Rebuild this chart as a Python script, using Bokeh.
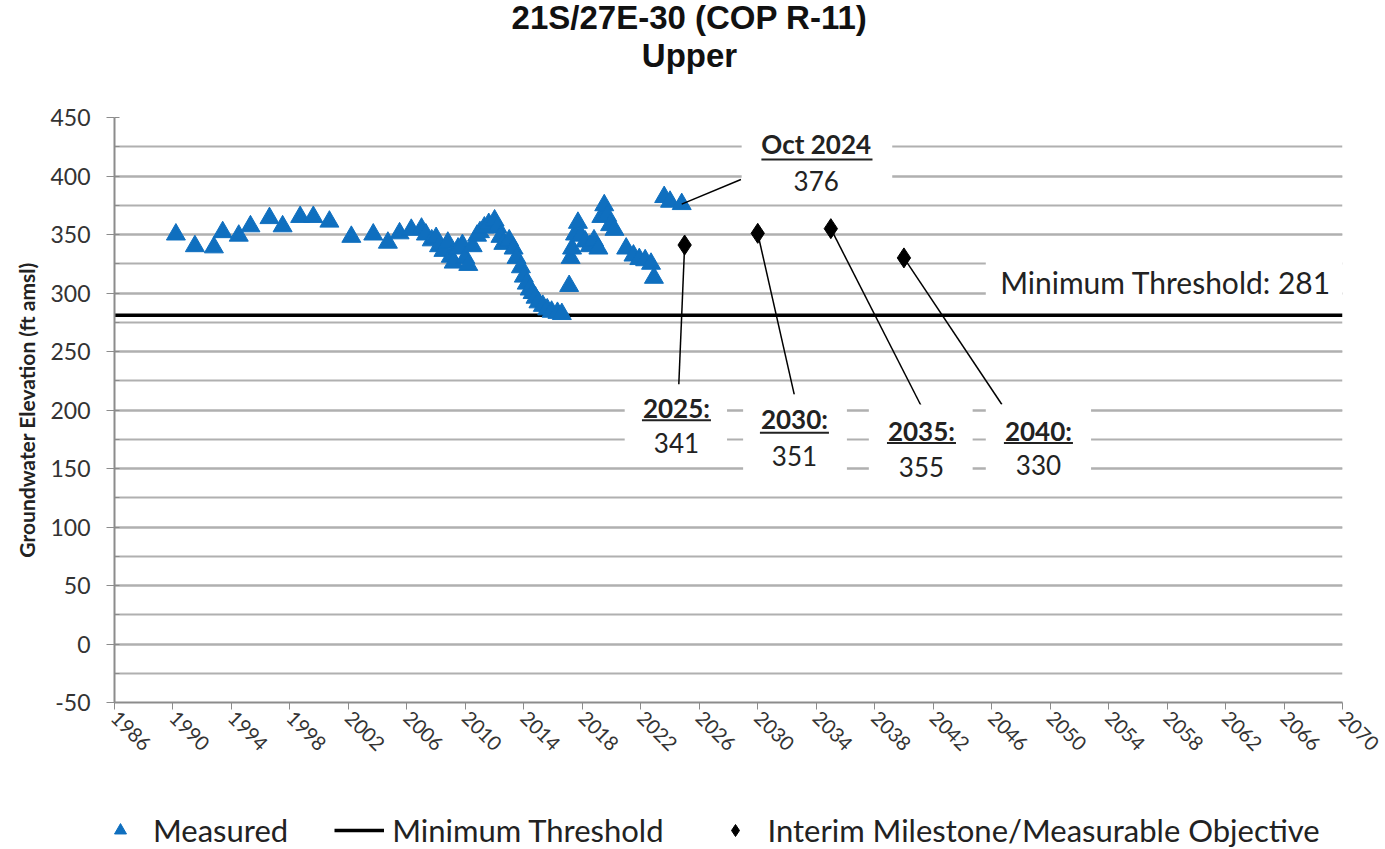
from bokeh.plotting import figure
from bokeh.layouts import column
from bokeh.models import (FixedTicker, Legend, LegendItem, Label, BoxAnnotation,
                          PrintfTickFormatter)
from bokeh.embed import file_html
from bokeh.resources import INLINE
import math

# ---------------- data ----------------
measured_year = [1990.2, 1991.5, 1992.8, 1993.4, 1994.5, 1995.3, 1996.6, 1997.5, 1998.7, 1999.6,
                 2000.7, 2002.2, 2003.7, 2004.7, 2005.5, 2006.3, 2007.0, 2007.3, 2007.7, 2008.0,
                 2008.2, 2008.5, 2008.8, 2009.0, 2009.2, 2009.5, 2009.8, 2010.0, 2010.2, 2010.5,
                 2010.8, 2011.0, 2011.3, 2011.6, 2012.0, 2012.2, 2012.4, 2012.6, 2013.0, 2013.3,
                 2013.5, 2013.8, 2014.0, 2014.2, 2014.4, 2014.6, 2014.8, 2015.0, 2015.3, 2015.6,
                 2015.9, 2016.3, 2016.6, 2017.1, 2017.2, 2017.3, 2017.5, 2017.7, 2017.9, 2018.2,
                 2018.5, 2018.8, 2019.1, 2019.3, 2019.5, 2019.7, 2019.9, 2020.2, 2021.0, 2021.5,
                 2021.9, 2022.3, 2022.7, 2022.9, 2023.6, 2024.0, 2024.8]
measured_value = [350, 340, 339, 352, 349, 357, 364, 357, 365, 365,
                  361, 348, 350, 343, 351, 354, 355, 350, 345, 347,
                  340, 336, 343, 331, 326, 338, 341, 330, 324, 340,
                  349, 352, 356, 359, 362, 356, 348, 342, 345, 338,
                  330, 322, 314, 308, 303, 300, 296, 292, 289, 286,
                  284, 283, 282, 306, 330, 338, 350, 360, 349, 344,
                  340, 345, 338, 365, 375, 366, 358, 354, 338, 332,
                  329, 328, 325, 313, 382, 378, 376]

milestone_year = [2025, 2030, 2035, 2040]
milestone_value = [341, 351, 355, 330]
milestone_text = ["341", "351", "355", "330"]
milestone_title = ["2025:", "2030:", "2035:", "2040:"]

threshold_value = 281
latest_title = "Oct 2024"
latest_text = "376"

title_lines = ["21S/27E-30 (COP R-11)", "Upper"]
legend_labels = ["Measured", "Minimum Threshold", "Interim Milestone/Measurable Objective"]

x_ticks = list(range(1986, 2071, 4))
y_ticks = list(range(-50, 451, 50))
y_minor = list(range(-50, 451, 25))

TOTAL_W = 1384
FL, FW = 114, 1228          # frame left / width shared by the stacked strips
BLUE = "#0F6FBF"

# ---------------- title strip (x in canvas pixels) ----------------
pt = figure(width=TOTAL_W, height=100, x_range=(FL, FL + FW), y_range=(0, 100),
            output_backend="svg", toolbar_location=None, x_axis_type=None, y_axis_type=None,
            min_border_left=FL, min_border_right=TOTAL_W - FL - FW, min_border_top=0,
            min_border_bottom=0)
pt.outline_line_color = None
pt.xgrid.visible = False
pt.ygrid.visible = False
for txt, yy in zip(title_lines, [83, 45]):
    pt.add_layout(Label(x=689, y=yy, text=txt, text_align="center", text_baseline="middle",
                        text_font="Liberation Sans", text_font_size="33px",
                        text_font_style="bold", text_color="#111111"))

# ---------------- main chart ----------------
p = figure(frame_width=FW, frame_height=585, x_range=(1986, 2070), y_range=(-50, 450),
           output_backend="svg", toolbar_location=None,
           min_border_left=FL, min_border_top=17, min_border_right=TOTAL_W - FL - FW,
           min_border_bottom=100)
p.outline_line_color = None
p.background_fill_color = "white"
p.border_fill_color = "white"

# axes
p.xaxis.ticker = FixedTicker(ticks=x_ticks)
p.xaxis.major_label_orientation = -math.pi / 4
p.xaxis.major_label_text_font = "Lato"
p.xaxis.major_label_text_font_size = "20px"
p.xaxis.major_label_text_color = "#333333"
p.xaxis.axis_line_color = "#8c8c8c"
p.xaxis.axis_line_width = 2
p.xaxis.major_tick_line_color = "#8c8c8c"
p.xaxis.major_tick_out = 7
p.xaxis.major_tick_in = 0
p.xaxis.minor_tick_line_color = None

p.yaxis.ticker = FixedTicker(ticks=y_ticks, minor_ticks=y_minor)
p.yaxis.formatter = PrintfTickFormatter(format="%d")
p.yaxis.major_label_text_font = "Lato"
p.yaxis.major_label_text_font_size = "23px"
p.yaxis.major_label_text_color = "#333333"
p.yaxis.major_label_standoff = 16
p.yaxis.axis_line_color = "#8c8c8c"
p.yaxis.axis_line_width = 2
p.yaxis.major_tick_line_color = "#8c8c8c"
p.yaxis.major_tick_out = 8
p.yaxis.major_tick_in = 0
p.yaxis.minor_tick_line_color = "#8c8c8c"
p.yaxis.minor_tick_in = 5
p.yaxis.minor_tick_out = 0
p.yaxis.axis_label = "Groundwater Elevation (ft amsl)"
p.yaxis.axis_label_text_font = "Lato"
p.yaxis.axis_label_text_font_style = "bold"
p.yaxis.axis_label_text_font_size = "21px"
p.yaxis.axis_label_text_color = "#222222"
p.yaxis.axis_label_standoff = 8

p.xgrid.grid_line_color = None
p.ygrid.grid_line_color = "#b0b0b0"
p.ygrid.grid_line_width = 2
p.ygrid.minor_grid_line_color = "#b0b0b0"
p.ygrid.minor_grid_line_width = 2

# threshold line
p.line(x=[1986, 2070], y=[threshold_value, threshold_value], line_color="black", line_width=3.5)

# measured
p.scatter(x=measured_year, y=measured_value, marker="triangle", size=19,
          fill_color=BLUE, line_color=BLUE)

# milestones
p.scatter(x=milestone_year, y=milestone_value, marker="diamond", size=20,
          fill_color="black", line_color="black")

# leader lines (label anchor -> marker)
lead_x0 = [2024.6, 2032.5, 2041.2, 2046.7]
lead_y0 = [221.8, 213.2, 203.0, 204.7]
p.segment(x0=lead_x0, y0=lead_y0, x1=milestone_year, y1=milestone_value,
          line_color="black", line_width=1.5)
p.segment(x0=[2028.85], y0=[397.0], x1=[measured_year[-1]], y1=[measured_value[-1]],
          line_color="black", line_width=1.5)

# white label boxes
boxes = [
    (2028.9, 2039.2, 380.0, 441.5),   # Oct 2024
    (2020.9, 2027.9, 157.7, 221.8),   # 2025
    (2029.0, 2036.1, 144.9, 213.2),   # 2030
    (2037.6, 2044.7, 132.1, 204.7),   # 2035
    (2045.6, 2052.8, 132.1, 204.7),   # 2040
    (2045.6, 2070.0, 294.4, 332.9),   # minimum threshold label
]
for l, r, b, t in boxes:
    p.add_layout(BoxAnnotation(left=l, right=r, bottom=b, top=t, fill_color="white",
                               fill_alpha=1.0, line_color=None, level="annotation"))

def lbl(x, y, text, bold=False, size="26px"):
    p.add_layout(Label(x=x, y=y, text=text, text_align="center", text_baseline="middle",
                       text_font="Lato", text_font_size=size,
                       text_font_style="bold" if bold else "normal",
                       text_color="#222222"))

# Oct 2024
lbl(2034.0, 427.0, latest_title, bold=True)
lbl(2034.0, 395.3, latest_text)
ul = [(2030.25, 2037.85, 414.0)]
# milestone labels
title_x = [2024.44, 2032.51, 2041.2, 2049.2]
title_y = [202.1, 191.9, 181.9, 181.9]
value_y = [172.2, 161.1, 151.4, 153.4]
ul_y = [191.3, 180.5, 171.9, 171.9]
ul_half = 2.36
for i in range(4):
    lbl(title_x[i], title_y[i], milestone_title[i], bold=True)
    lbl(title_x[i], value_y[i], milestone_text[i])
    ul.append((title_x[i] - ul_half, title_x[i] + ul_half, ul_y[i]))
p.segment(x0=[u[0] for u in ul], y0=[u[2] for u in ul], x1=[u[1] for u in ul], y1=[u[2] for u in ul],
          line_color="#222222", line_width=2, level="overlay")

lbl(2057.9, 309.0, "Minimum Threshold: %d" % threshold_value, size="30px")

# ---------------- legend strip ----------------
pl = figure(width=TOTAL_W, height=50, x_range=(0, 1), y_range=(0, 1),
            output_backend="svg", toolbar_location=None, x_axis_type=None, y_axis_type=None,
            min_border_left=FL, min_border_right=TOTAL_W - FL - FW, min_border_top=0,
            min_border_bottom=0)
pl.outline_line_color = None
pl.xgrid.visible = False
pl.ygrid.visible = False
# proxy glyphs (outside the visible range) used only for the legend swatches
r_meas = pl.scatter(x=[-5], y=[-5], marker="triangle", size=19, fill_color=BLUE, line_color=BLUE)
r_thr = pl.line(x=[-5, -4], y=[-5, -5], line_color="black", line_width=3.5)
r_ms = pl.scatter(x=[-5], y=[-5], marker="diamond", size=20, fill_color="black", line_color="black")
legend = Legend(items=[LegendItem(label=legend_labels[0], renderers=[r_meas]),
                       LegendItem(label=legend_labels[1], renderers=[r_thr]),
                       LegendItem(label=legend_labels[2], renderers=[r_ms])],
                orientation="horizontal", location=(95 - FL, 3))
legend.label_text_font = "Lato"
legend.label_text_font_size = "31px"
legend.label_text_color = "#222222"
legend.border_line_color = None
legend.background_fill_alpha = 0
legend.glyph_width = 50
legend.glyph_height = 30
legend.spacing = 46
legend.label_standoff = 8
legend.padding = 2
legend.margin = 0
pl.add_layout(legend, "center")

layout = column(pt, p, pl, spacing=0)
open("out.html", "w").write(file_html(layout, INLINE))
